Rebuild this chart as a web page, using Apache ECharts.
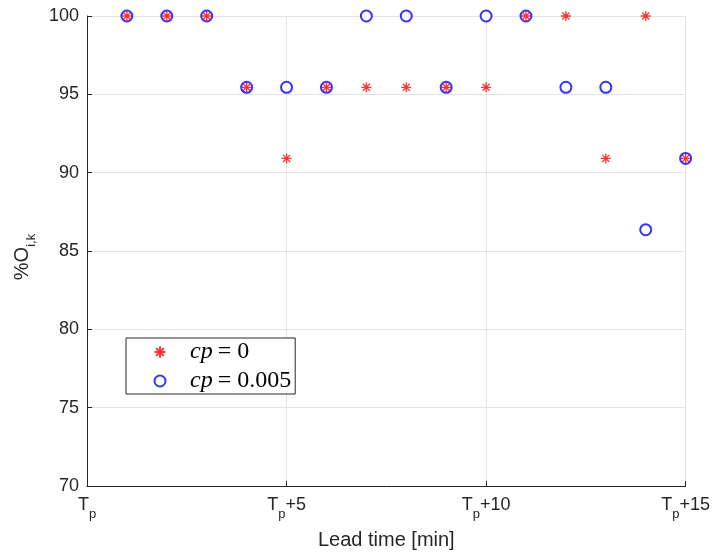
<!DOCTYPE html>
<html>
<head>
<meta charset="utf-8">
<script src="https://cdn.jsdelivr.net/npm/echarts@6/dist/echarts.min.js"></script>
<style>html,body{margin:0;padding:0;background:#fff}#c{width:713px;height:557px}</style>
</head>
<body>
<div id="c"></div>
<script>
var leadTimes = [1,2,3,4,5,6,7,8,9,10,11,12,13,14,15];
var cp0 = [100,100,100,95.45,90.91,95.45,95.45,95.45,95.45,95.45,100,100,90.91,100,90.91];
var cp005 = [100,100,100,95.45,95.45,95.45,100,100,95.45,100,100,95.45,95.45,86.36,90.91];
var xTickLabels = {0:'{t|T}{s|p}', 5:'{t|T}{s|p}{t|+5}', 10:'{t|T}{s|p}{t|+10}', 15:'{t|T}{s|p}{t|+15}'};
var seriesNames = ['cp0', 'cp005'];
var legendValues = {cp0: '0', cp005: '0.005'};

function pairs(xs, ys){ return xs.map(function(x,i){ return [x, ys[i]]; }); }

var starPath = 'path://M0,-10L0,10M-10,0L10,0M-7.07,-7.07L7.07,7.07M-7.07,7.07L7.07,-7.07';
var font = 'Liberation Sans';
var txt = '#262626';

var chart = echarts.init(document.getElementById('c'));
chart.setOption({
  animation: false,
  backgroundColor: '#fff',
  grid: {left: 87, right: 27, top: 16, bottom: 71, containLabel: false},
  xAxis: {
    type: 'value', min: 0, max: 15, interval: 5,
    name: 'Lead time [min]', nameLocation: 'middle', nameGap: 44,
    nameTextStyle: {fontFamily: font, fontSize: 20, color: txt, lineHeight: 20},
    axisLine: {show: true, onZero: false, lineStyle: {color: '#262626', width: 1}},
    axisTick: {show: true, inside: true, length: 5, lineStyle: {color: '#262626'}},
    splitLine: {show: true, lineStyle: {color: '#e3e3e3', width: 1}},
    axisLabel: {
      margin: 10,
      formatter: function(v){ return xTickLabels[v] || ''; },
      rich: {
        t: {fontFamily: font, fontSize: 18, color: txt, verticalAlign: 'top', lineHeight: 18},
        s: {fontFamily: font, fontSize: 13, color: txt, verticalAlign: 'top', lineHeight: 13, padding: [12,0,0,0]}
      }
    }
  },
  yAxis: {
    type: 'value', min: 70, max: 100, interval: 5,
    name: '{t|%O}{s|i,k}', nameLocation: 'middle', nameGap: 45,
    nameTextStyle: {
      padding: [0, 12, 0, 0],
      rich: {
        t: {fontFamily: font, fontSize: 20, color: txt, verticalAlign: 'top', lineHeight: 20},
        s: {fontFamily: font, fontSize: 13, color: txt, verticalAlign: 'top', lineHeight: 13, padding: [13,0,0,0]}
      }
    },
    axisLine: {show: true, onZero: false, lineStyle: {color: '#262626', width: 1}},
    axisTick: {show: true, inside: true, length: 5, lineStyle: {color: '#262626'}},
    splitLine: {show: true, lineStyle: {color: '#e3e3e3', width: 1}},
    axisLabel: {fontFamily: font, fontSize: 18, color: txt, margin: 8}
  },
  legend: {
    orient: 'vertical', left: 126, top: 338,
    data: seriesNames,
    backgroundColor: '#fff', borderColor: '#262626', borderWidth: 1,
    padding: [2, 4, 1, 26], itemGap: 5, itemWidth: 14, itemHeight: 11,
    formatter: function(n){ return '{i|cp}{e|=}{r|' + legendValues[n] + '}'; },
    textStyle: {
      padding: [0, 0, 0, 18],
      rich: {
        i: {fontFamily: 'Liberation Serif', fontStyle: 'italic', fontSize: 24, color: '#000', lineHeight: 24},
        e: {fontFamily: 'Liberation Serif', fontSize: 24, color: '#000', lineHeight: 24, padding: [0, 6, 0, 5]},
        r: {fontFamily: 'Liberation Serif', fontSize: 24, color: '#000', lineHeight: 24}
      }
    }
  },
  series: [
    {
      name: 'cp005', type: 'scatter', data: pairs(leadTimes, cp005),
      symbol: 'emptyCircle', symbolSize: 11, z: 2,
      itemStyle: {color: '#0000ff', borderColor: '#0000ff', borderWidth: 1.2}
    },
    {
      name: 'cp0', type: 'scatter', data: pairs(leadTimes, cp0),
      symbol: starPath, symbolSize: 10, z: 3,
      itemStyle: {color: 'none', borderColor: '#ff0000', borderWidth: 1.3}
    }
  ]
});
</script>
</body>
</html>
